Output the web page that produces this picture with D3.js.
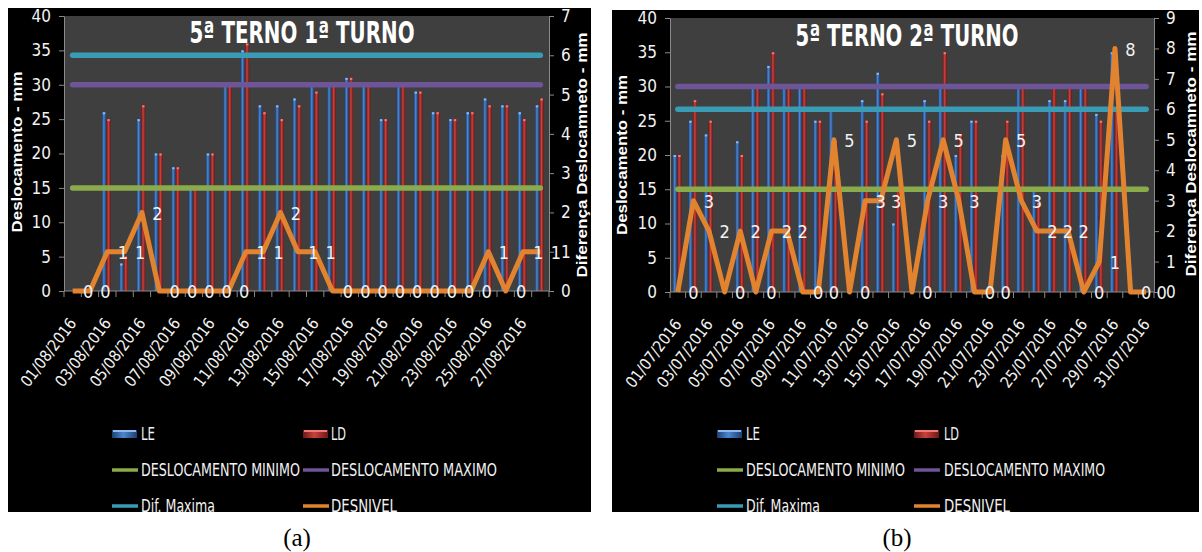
<!DOCTYPE html>
<html><head><meta charset="utf-8">
<script src="https://cdn.jsdelivr.net/npm/d3@7"></script>
<style>
html,body{margin:0;padding:0;background:#fff;}
svg{display:block;}
</style></head><body>
<svg id="chart" width="1202" height="552"></svg>
<script>
// ---------- DATA ----------
const datesA = ["01/08/2016","02/08/2016","03/08/2016","04/08/2016","05/08/2016","06/08/2016","07/08/2016",
  "08/08/2016","09/08/2016","10/08/2016","11/08/2016","12/08/2016","13/08/2016","14/08/2016",
  "15/08/2016","16/08/2016","17/08/2016","18/08/2016","19/08/2016","20/08/2016","21/08/2016",
  "22/08/2016","23/08/2016","24/08/2016","25/08/2016","26/08/2016","27/08/2016","28/08/2016"];
const leA = [null,null,26,4,25,20,18,15,20,30,35,27,27,28,30,30,31,30,25,30,29,26,25,26,28,27,26,27];
const ldA = [null,null,25,5,27,20,18,15,20,30,36,26,25,27,29,30,31,30,25,30,29,26,25,26,27,27,25,28];
const desnivelA = [0,0,1,1,2,0,0,0,0,0,1,1,2,1,1,0,0,0,0,0,0,0,0,0,1,0,1,1];
const deslocMinA = 15, deslocMaxA = 30, difMaxA = 6;

const datesB = ["01/07/2016","02/07/2016","03/07/2016","04/07/2016","05/07/2016","06/07/2016","07/07/2016",
  "08/07/2016","09/07/2016","10/07/2016","11/07/2016","12/07/2016","13/07/2016","14/07/2016",
  "15/07/2016","16/07/2016","17/07/2016","18/07/2016","19/07/2016","20/07/2016","21/07/2016",
  "22/07/2016","23/07/2016","24/07/2016","25/07/2016","26/07/2016","27/07/2016","28/07/2016",
  "29/07/2016","30/07/2016","31/07/2016"];
const leB = [20,25,23,null,22,30,33,30,30,25,27,null,28,32,10,null,28,30,20,25,null,20,30,15,28,28,30,26,35,null,null];
const ldB = [20,28,25,null,20,30,35,30,30,25,22,null,25,29,15,null,25,35,23,25,null,25,30,13,30,30,30,25,27,null,null];
const desnivelB = [0,3,2,0,2,0,2,2,0,0,5,0,3,3,5,0,3,5,3,0,0,5,3,2,2,2,0,1,8,0,0];
const deslocMinB = 15, deslocMaxB = 30, difMaxB = 6;

const leftTicks = [0,5,10,15,20,25,30,35,40];
const rightTicksA = [0,1,2,3,4,5,6,7];
const rightTicksB = [0,1,2,3,4,5,6,7,8,9];
const legendLabels = ["LE","LD","DESLOCAMENTO MINIMO","DESLOCAMENTO MAXIMO","Dif. Maxima","DESNIVEL"];

// ---------- STYLE ----------
const FONT = "'Liberation Sans Narrow','DejaVu Sans Condensed','Liberation Sans',Arial,sans-serif";
const C = {green:"#8aab4b", purple:"#6d5597", cyan:"#3a9bb4", orange:"#e2842f",
  plot:"#3f3f3f", axis:"#8a8a8a", text:"#f2f2f2"};

const svg = d3.select("#chart");
const defs = svg.append("defs");
function grad(id, stops){
  const g = defs.append("linearGradient").attr("id", id).attr("x1","0").attr("x2","1").attr("y1","0").attr("y2","0");
  stops.forEach(s => g.append("stop").attr("offset", s[0]).attr("stop-color", s[1]));
}
grad("gLE", [[0,"#1c3f73"],[0.45,"#4d86cf"],[1,"#1c3f73"]]);
grad("gLD", [[0,"#6e1717"],[0.45,"#c9413c"],[1,"#6e1717"]]);

function drawChart(cfg){
  const [px0,py0,px1,py1] = cfg.panel;
  const [l,t,r,b] = cfg.plot;
  defs.append("clipPath").attr("id","clip"+cfg.id).append("rect")
    .attr("x",px0).attr("y",py0).attr("width",px1-px0).attr("height",py1-py0);
  const g = svg.append("g").attr("clip-path","url(#clip"+cfg.id+")");
  g.append("rect").attr("x",px0).attr("y",py0).attr("width",px1-px0).attr("height",py1-py0).attr("fill","#000");
  g.append("rect").attr("x",l).attr("y",t).attr("width",r-l).attr("height",b-t).attr("fill",C.plot);

  const x = d3.scaleBand().domain(cfg.dates).range([l,r]).padding(0);
  const yL = d3.scaleLinear().domain([0,40]).range([b,t]);
  const yR = d3.scaleLinear().domain([0,cfg.rightTicks[cfg.rightTicks.length-1]]).range([b,t]);
  const cx = d => x(d) + x.bandwidth()/2;
  const xs = d3.scaleBand().domain(["LE","LD"]).range(cfg.barRange).paddingInner(0.12);

  const barData = [];
  cfg.dates.forEach((d,i) => {
    if (cfg.le[i] != null) barData.push({d, k:"LE", v:cfg.le[i]});
    if (cfg.ld[i] != null) barData.push({d, k:"LD", v:cfg.ld[i]});
  });
  const bars = g.append("g");
  bars.selectAll("rect.bar").data(barData).join("rect").attr("class","bar")
    .attr("x", d => cx(d.d) + xs(d.k)).attr("width", xs.bandwidth())
    .attr("y", d => yL(d.v)).attr("height", d => b - yL(d.v))
    .attr("fill", d => d.k === "LE" ? "url(#gLE)" : "url(#gLD)");
  bars.selectAll("rect.cap").data(barData).join("rect").attr("class","cap")
    .attr("x", d => cx(d.d) + xs(d.k) + 0.8).attr("width", xs.bandwidth() - 1.6)
    .attr("y", d => yL(d.v)).attr("height", 2)
    .attr("fill", d => d.k === "LE" ? "#8fb8ee" : "#f07a74");

  // axes
  const gx = g.append("g");
  gx.append("line").attr("x1",l).attr("x2",r).attr("y1",b).attr("y2",b).attr("stroke",C.axis);
  const bounds = cfg.dates.map(d => x(d)).concat([r]);
  gx.selectAll("line.tk").data(bounds).join("line").attr("class","tk")
    .attr("x1", d=>d).attr("x2", d=>d).attr("y1", b).attr("y2", b+6).attr("stroke", C.axis);
  gx.selectAll("text").data(cfg.dates.filter((d,i)=> i%2===0)).join("text")
    .attr("transform", d => `translate(${cx(d)},${b+29}) rotate(-53)`)
    .attr("text-anchor","end").attr("dy","0.35em")
    .attr("fill",C.text).attr("font-family",FONT).attr("font-size",16)
    .attr("textLength",81).attr("lengthAdjust","spacingAndGlyphs").text(d=>d);

  const axL = g.append("g").attr("transform",`translate(${l},0)`)
    .call(d3.axisLeft(yL).tickValues(leftTicks).tickSize(5).tickSizeOuter(0).tickPadding(8).tickFormat(d3.format("d")));
  const axR = g.append("g").attr("transform",`translate(${r},0)`)
    .call(d3.axisRight(yR).tickValues(cfg.rightTicks).tickSize(5).tickSizeOuter(0).tickPadding(7).tickFormat(d3.format("d")));
  [axL, axR].forEach(a => {
    a.select(".domain").attr("stroke",C.axis);
    a.selectAll(".tick line").attr("stroke",C.axis);
    a.selectAll(".tick text").attr("fill",C.text).attr("font-family",FONT).attr("font-size",17);
  });

  // horizontal reference lines
  const x0 = cx(cfg.dates[0]), x1 = cx(cfg.dates[cfg.dates.length-1]);
  const hl = (y, col) => g.append("line").attr("x1",x0).attr("x2",x1).attr("y1",y).attr("y2",y)
    .attr("stroke",col).attr("stroke-width",5.5).attr("stroke-linecap","round");
  hl(yL(cfg.minV), C.green);
  hl(yL(cfg.maxV), C.purple);
  hl(yR(cfg.difV), C.cyan);

  // DESNIVEL line
  const line = d3.line().x((v,i)=>cx(cfg.dates[i])).y(v=>yR(v));
  g.append("path").attr("d", line(cfg.desn)).attr("fill","none").attr("stroke",C.orange)
    .attr("stroke-width",5).attr("stroke-linejoin","round");
  g.append("g").selectAll("text").data(cfg.desn).join("text")
    .attr("x",(v,i)=>cx(cfg.dates[i]) + 15.5).attr("y", v => yR(v) + 1)
    .attr("dy","0.35em").attr("text-anchor","middle")
    .attr("fill",C.text).attr("font-family",FONT).attr("font-size",18).text(v=>v);

  // title
  g.append("text").attr("x",cfg.title.x).attr("y",cfg.title.y).attr("text-anchor","middle")
    .attr("fill","#fff").attr("font-family",FONT).attr("font-weight","bold").attr("font-size",30)
    .attr("textLength",cfg.title.len).attr("lengthAdjust","spacingAndGlyphs").text(cfg.title.text);
  // axis titles
  const rt = (o, txt) => g.append("text")
    .attr("transform",`translate(${o.x},${o.y}) rotate(-90)`).attr("text-anchor","middle").attr("dy","0.35em")
    .attr("fill","#fff").attr("font-family","'Liberation Sans',Arial,sans-serif").attr("font-weight","bold")
    .attr("font-size",14).attr("textLength",o.len).attr("lengthAdjust","spacingAndGlyphs").text(txt);
  rt(cfg.leftTitle, "Deslocamento - mm");
  rt(cfg.rightTitle, "Diferença Deslocamneto - mm");

  // legend
  const lg = cfg.legend;
  const items = [
    {t:legendLabels[0], type:"bar", fill:"url(#gLE)", col:0, row:0, len:lg.len[0]},
    {t:legendLabels[1], type:"bar", fill:"url(#gLD)", col:1, row:0, len:lg.len[1]},
    {t:legendLabels[2], type:"line", fill:C.green, col:0, row:1, len:lg.len[2]},
    {t:legendLabels[3], type:"line", fill:C.purple, col:1, row:1, len:lg.len[3]},
    {t:legendLabels[4], type:"line", fill:C.cyan, col:0, row:2, len:lg.len[4]},
    {t:legendLabels[5], type:"line", fill:C.orange, col:1, row:2, len:lg.len[5]}
  ];
  items.forEach(it => {
    const sx = lg.sw[it.col], ty = lg.rows[it.row];
    if (it.type === "bar") {
      g.append("rect").attr("x",sx).attr("y",ty-4).attr("width",25).attr("height",8).attr("fill",it.fill);
      g.append("rect").attr("x",sx+1).attr("y",ty-4).attr("width",23).attr("height",2)
        .attr("fill", it.t === "LE" ? "#8fb8ee" : "#f07a74");
    } else {
      g.append("line").attr("x1",sx).attr("x2",sx+26).attr("y1",ty).attr("y2",ty)
        .attr("stroke",it.fill).attr("stroke-width",3.5);
    }
    g.append("text").attr("x",lg.tx[it.col]).attr("y",ty).attr("dy","0.36em")
      .attr("fill",C.text).attr("font-family",FONT).attr("font-size",18)
      .attr("textLength",it.len).attr("lengthAdjust","spacingAndGlyphs").text(it.t);
  });

  // caption
  svg.append("text").attr("x",cfg.caption.x).attr("y",546).attr("text-anchor","middle")
    .attr("fill","#000").attr("font-family","'Liberation Serif','Times New Roman',serif").attr("font-size",25)
    .text(cfg.caption.text);
}

drawChart({
  id:"A", panel:[8,8,591,512], plot:[64,16,549,291],
  dates:datesA, le:leA, ld:ldA, desn:desnivelA,
  minV:deslocMinA, maxV:deslocMaxA, difV:difMaxA, rightTicks:rightTicksA,
  barRange:[-5.3,3.3],
  title:{text:"5ª TERNO 1ª TURNO", x:302, y:43, len:225},
  leftTitle:{x:17, y:152, len:161},
  rightTitle:{x:582, y:155, len:245},
  legend:{sw:[112,303], tx:[141,331], rows:[434,470,506], len:[14,15,159,166,74,66]},
  caption:{x:297, text:"(a)"}
});
drawChart({
  id:"B", panel:[612,10,1199,512], plot:[670,18,1154,292],
  dates:datesB, le:leB, ld:ldB, desn:desnivelB,
  minV:deslocMinB, maxV:deslocMaxB, difV:difMaxB, rightTicks:rightTicksB,
  barRange:[-5,3.6],
  title:{text:"5ª TERNO 2ª TURNO", x:907, y:45.5, len:223},
  leftTitle:{x:622, y:155, len:160},
  rightTitle:{x:1191, y:154, len:245},
  legend:{sw:[717,914], tx:[746,944], rows:[434,470,506], len:[14,15,159,161,74,66]},
  caption:{x:897, text:"(b)"}
});
</script>
</body></html>
